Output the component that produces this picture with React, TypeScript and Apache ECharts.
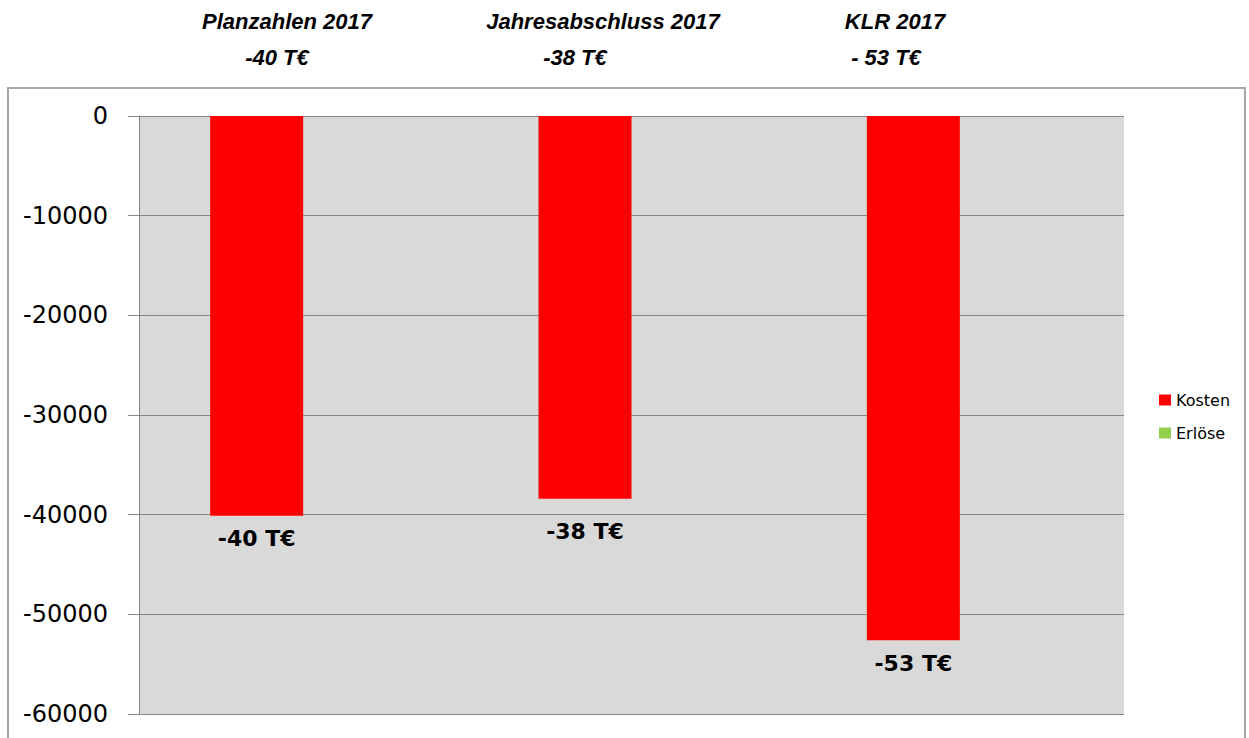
import React, { useEffect, useRef } from "react";
import * as echarts from "echarts";

const categories = ["Planzahlen 2017", "Jahresabschluss 2017", "KLR 2017"];
const kosten = [-40100, -38400, -52600];
const erloese = [0, 0, 0];
const barLabels = ["-40 T€", "-38 T€", "-53 T€"];
const titleLine1 = ["Planzahlen 2017", "Jahresabschluss 2017", "KLR 2017"];
const titleLine2 = ["-40 T€", "-38 T€", "- 53 T€"];
const seriesNames = ["Kosten", "Erlöse"];

export default function App() {
  const ref = useRef<HTMLDivElement>(null);
  useEffect(() => {
    if (!ref.current) return;
    const chart = echarts.init(ref.current, undefined, { renderer: "svg" });
    const titleX1 = [287, 603, 895];
    const titleX2 = [277, 575, 886];
    const titleFont = {
      fontFamily: "Liberation Sans",
      fontSize: 22,
      fontWeight: "bold",
      fontStyle: "italic",
      fill: "#000",
    };
    const labelDist = [12, 22, 12];
    chart.setOption({
      animation: false,
      backgroundColor: "#fff",
      grid: {
        left: 139,
        right: 125,
        top: 116,
        bottom: 24,
        show: true,
        backgroundColor: "#d9d9d9",
        borderWidth: 0,
      },
      legend: {
        orient: "vertical",
        left: 1154,
        top: 387,
        itemWidth: 12,
        itemHeight: 11,
        itemGap: 17,
        icon: "rect",
        data: seriesNames,
        textStyle: { fontFamily: "DejaVu Sans", fontSize: 16, color: "#000" },
      },
      xAxis: {
        type: "category",
        data: categories,
        axisLine: { show: false },
        axisTick: { show: false },
        axisLabel: { show: false },
      },
      yAxis: {
        type: "value",
        min: -60000,
        max: 0,
        interval: 10000,
        axisLine: { show: true, lineStyle: { color: "#868686", width: 1 } },
        axisTick: { show: true, length: 11, lineStyle: { color: "#868686" } },
        axisLabel: {
          margin: 31,
          fontFamily: "DejaVu Sans",
          fontSize: 24,
          color: "#000",
          formatter: (v: number) => String(v),
        },
        splitLine: { show: true, lineStyle: { color: "#868686", width: 1 } },
      },
      series: [
        {
          name: seriesNames[0],
          type: "bar",
          barWidth: 93,
          barGap: "0%",
          itemStyle: { color: "#ff0000" },
          data: kosten.map((v, i) => ({
            value: v,
            label: {
              show: true,
              position: "bottom",
              distance: labelDist[i],
              formatter: barLabels[i],
              fontFamily: "DejaVu Sans",
              fontWeight: "bold",
              fontSize: 22,
              color: "#000",
            },
          })),
        },
        {
          name: seriesNames[1],
          type: "bar",
          barWidth: 93,
          barGap: "0%",
          itemStyle: { color: "#92d050" },
          data: erloese,
        },
      ],
      graphic: [
        {
          type: "rect",
          shape: { x: 8, y: 88, width: 1237, height: 700 },
          style: { fill: "none", stroke: "#a6a6a6", lineWidth: 2 },
          z: -1,
          silent: true,
        },
        ...titleLine1.map((t, i) => ({
          type: "text",
          x: titleX1[i],
          y: 21,
          style: { ...titleFont, text: t, textAlign: "center", textVerticalAlign: "middle" },
        })),
        ...titleLine2.map((t, i) => ({
          type: "text",
          x: titleX2[i],
          y: 57,
          style: { ...titleFont, text: t, textAlign: "center", textVerticalAlign: "middle" },
        })),
      ],
    });
    return () => chart.dispose();
  }, []);
  return (
    <div
      ref={ref}
      style={{ position: "absolute", left: 0, top: 0, width: 1249, height: 738 }}
    />
  );
}
